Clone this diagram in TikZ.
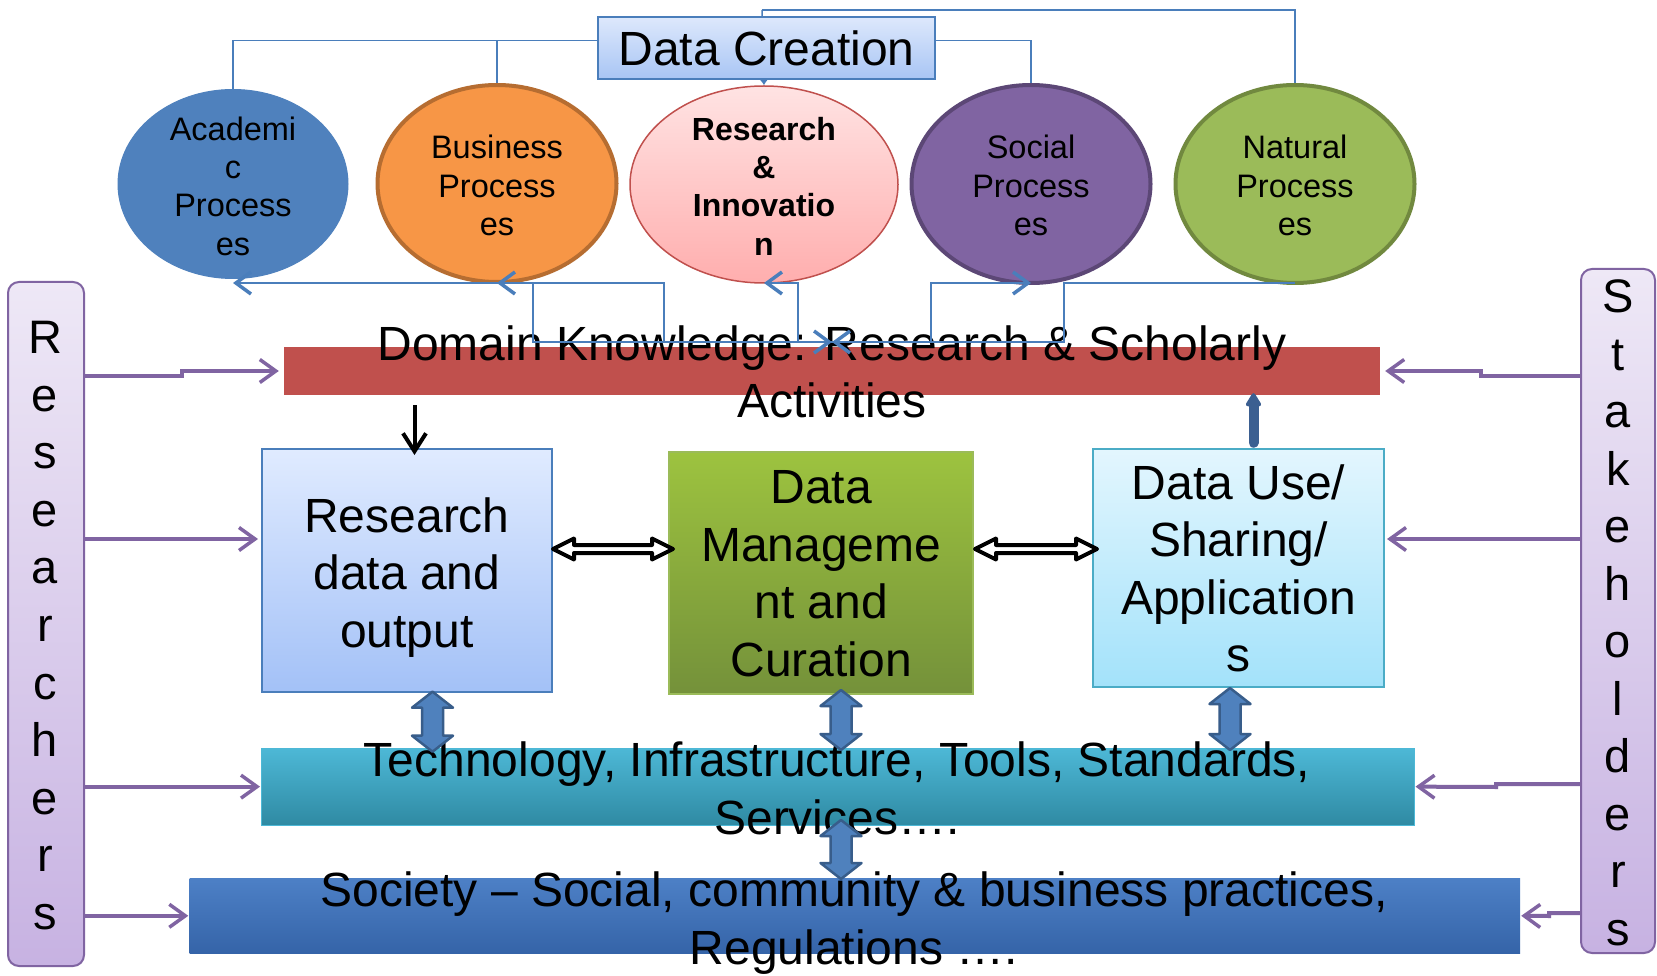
\documentclass[tikz,border=0pt]{standalone}
\usepackage{fontspec}
\setmainfont{Liberation Sans}
\usetikzlibrary{arrows.meta,shapes.geometric,calc}
\definecolor{lnblue}{HTML}{4A7EBB}
\definecolor{acaFill}{HTML}{4F81BD}
\definecolor{busFill}{HTML}{F79646}
\definecolor{busLine}{HTML}{B66D31}
\definecolor{resTop}{HTML}{FFE3E3}
\definecolor{resBot}{HTML}{FFAEAE}
\definecolor{resLine}{HTML}{C0504D}
\definecolor{socFill}{HTML}{8064A2}
\definecolor{socLine}{HTML}{5C4776}
\definecolor{natFill}{HTML}{9BBB59}
\definecolor{natLine}{HTML}{71893F}
\definecolor{domFill}{HTML}{C0504D}
\definecolor{purp}{HTML}{8064A2}
\definecolor{purTop}{HTML}{EEE8F6}
\definecolor{purBot}{HTML}{C7B2E2}
\definecolor{rdTop}{HTML}{E0EBFF}
\definecolor{rdBot}{HTML}{A3C1F7}
\definecolor{dmTop}{HTML}{9DC33F}
\definecolor{dmBot}{HTML}{74913A}
\definecolor{dmLine}{HTML}{9BBB59}
\definecolor{duTop}{HTML}{E3F6FE}
\definecolor{duBot}{HTML}{A3E2FA}
\definecolor{duLine}{HTML}{4BACC6}
\definecolor{tecTop}{HTML}{4DB8D6}
\definecolor{tecBot}{HTML}{2F8AA3}
\definecolor{sctTop}{HTML}{4D80C6}
\definecolor{sctBot}{HTML}{3564A8}
\definecolor{dcTop}{HTML}{DDE8FC}
\definecolor{dcBot}{HTML}{A8C5F4}
\definecolor{arrBlue}{HTML}{4F81BD}
\definecolor{arrBlueLine}{HTML}{385D8A}
\definecolor{upBlue}{HTML}{3B5F91}
\tikzset{
  cn/.style={draw=lnblue, line width=1.5pt},
  barbB/.tip={Straight Barb[length=15pt,width=22pt,line width=3.5pt]},
  ell/.style={ellipse, inner sep=0pt},
  rect/.style={rectangle, inner sep=0pt},
  elltxt/.style={align=center, inner sep=0pt, font=\fontsize{32.5}{38.3}\selectfont},
  bigtxt/.style={align=center, inner sep=0pt, font=\fontsize{48}{57.5}\selectfont},
  vtxt/.style={align=center, inner sep=0pt, font=\fontsize{47}{57.55}\selectfont},
  parr/.style={draw=purp, line width=4pt, -{Straight Barb[length=16pt,width=23pt,line width=3.5pt]}},
  blkarr/.style={draw=black, line width=4pt, -{Straight Barb[length=18pt,width=23pt,line width=4pt]}},
  upar/.style={draw=upBlue, line width=10pt, line cap=round, -{Triangle[length=15pt,width=17pt,round]}},
  hollowarr/.style={draw=black, fill=white, line width=4pt, line join=round},
  blockarr/.style={draw=arrBlueLine, fill=arrBlue, line width=2.5pt, line join=round},
}
\newcommand\blockdarrow[3]{%
  \draw[blockarr] (#1,#2) -- (#1+20.5,#2+16) -- (#1+10.5,#2+16) -- (#1+10.5,#3-16) -- (#1+20.5,#3-16) -- (#1,#3) -- (#1-20.5,#3-16) -- (#1-10.5,#3-16) -- (#1-10.5,#2+16) -- (#1-20.5,#2+16) -- cycle;}
\newcommand\hollowdarrow[3]{%
  \draw[hollowarr] (#1,#3) -- (#1+21,#3-10.5) -- (#1+21,#3-4) -- (#2-21,#3-4) -- (#2-21,#3-10.5) -- (#2,#3) -- (#2-21,#3+10.5) -- (#2-21,#3+4) -- (#1+21,#3+4) -- (#1+21,#3+10.5) -- cycle;}
\begin{document}
\begin{tikzpicture}[x=1pt,y=-1pt]
\useasboundingbox (0,0) rectangle (1657,976);
\fill[white] (0,0) rectangle (1657,976);

% ---- process ellipses
\node[ell, fill=acaFill, draw=acaFill, line width=1pt, minimum width=230pt, minimum height=189pt] (aca) at (233,184) {};
\node[ell, fill=busFill, draw=busLine, line width=4pt, minimum width=239pt, minimum height=197pt] (bus) at (497,183.5) {};
\node[ell, top color=resTop, bottom color=resBot, draw=resLine, line width=1.5pt, minimum width=268pt, minimum height=197pt] (res) at (764,184.5) {};
\node[ell, fill=socFill, draw=socLine, line width=4pt, minimum width=239pt, minimum height=198pt] (soc) at (1031,184) {};
\node[ell, fill=natFill, draw=natLine, line width=4pt, minimum width=239pt, minimum height=198pt] (nat) at (1295,184) {};
\node[elltxt] (acaT) at (233,186.2) {Academi\\c\\Process\\es};
\node[elltxt] (busT) at (497,185.4) {Business\\Process\\es};
\node[elltxt, font=\fontsize{32}{38.3}\selectfont\bfseries] (resT) at (764,186.2) {Research\\\&\\Innovatio\\n};
\node[elltxt] (socT) at (1031,185.4) {Social\\Process\\es};
\node[elltxt] (natT) at (1295,185.4) {Natural\\Process\\es};

% ---- Data Creation connectors
\coordinate (dcL) at (598,40.7);
\coordinate (dcR) at (935,40.7);
\coordinate (dcT) at (762,10);
\draw[cn] (dcL) -| (aca.north);
\draw[cn] (bus.north) -- (bus.north |- dcL);
\draw[cn] (dcR) -| (soc.north);
\draw[cn] (dcT) -| (nat.north);
\draw[cn, -{Latex[length=6pt,width=9pt]}] (dcT) -- (res.north);
\node[rect, draw=lnblue, line width=2pt, top color=dcTop, bottom color=dcBot, minimum width=337pt, minimum height=62pt, font=\fontsize{48}{57.5}\selectfont] (dc) at (766.5,48.2) {Data Creation};

% ---- Domain knowledge bar
\node[rect, fill=domFill, minimum width=1096pt, minimum height=48pt] (dom) at (832,371) {};
\node[bigtxt] (domT) at (832,372) {Domain Knowledge: Research \& Scholarly\\Activities};

% ---- feedback connectors under the ellipses
\coordinate (row) at (0,283);
\coordinate (hub) at (832,342);
\draw[cn, barbB-barbB] (aca.south |- row) -- (533,283) -- (533,342) -- (hub);
\draw[cn, barbB-] (bus.south |- row) -| (664,342) -- (hub);
\draw[cn, barbB-] (res.south |- row) -| (798,342) -- (hub);
\draw[cn, barbB-] (soc.south |- row) -| (931,342) -- (hub);
\draw[cn, -barbB] (nat.south |- row) -| (1064,342) -- (hub);

% ---- middle boxes
\node[rect, draw=lnblue, line width=2pt, top color=rdTop, bottom color=rdBot, minimum width=290pt, minimum height=243pt] (rd) at (407,570.5) {};
\node[bigtxt] (rdT) at (407,577.3) {Research\\data and\\output};
\node[rect, draw=dmLine, line width=2pt, top color=dmTop, bottom color=dmBot, minimum width=303.6pt, minimum height=242.3pt] (dm) at (821.2,572.9) {};
\node[bigtxt] (dmT) at (821.2,573.6) {Data\\Manageme\\nt and\\Curation};
\node[rect, draw=duLine, line width=2pt, top color=duTop, bottom color=duBot, minimum width=291pt, minimum height=238.3pt] (du) at (1238.5,567.9) {};
\node[bigtxt] (duT) at (1238.5,568.5) {Data Use/\\Sharing/\\Application\\s};

% ---- lower bars
\node[rect, top color=tecTop, bottom color=tecBot, draw=tecTop, line width=1pt, minimum width=1152.5pt, minimum height=76.7pt] (tec) at (837.75,786.65) {};
\node[bigtxt] (tecT) at (837,788.4) {Technology, Infrastructure, Tools, Standards,\\Services….};
\node[rect, top color=sctTop, bottom color=sctBot, minimum width=1330.5pt, minimum height=75pt] (sct) at (854.75,915.8) {};
\node[bigtxt] (sctT) at (854,923) {Society – Social, community \& business practices,\\Regulations ….};

% ---- side boxes
\node[rect, rounded corners=11pt, draw=purp, line width=2pt, top color=purTop, bottom color=purBot, minimum width=76pt, minimum height=684pt] (rsr) at (46,624) {};
\node[vtxt] (rsrT) at (45,625.6) {R\\e\\s\\e\\a\\r\\c\\h\\e\\r\\s};
\node[rect, rounded corners=11pt, draw=purp, line width=2pt, top color=purTop, bottom color=purBot, minimum width=74pt, minimum height=684pt] (stk) at (1618,611) {};
\node[vtxt] (stkT) at (1618,612.8) {S\\t\\a\\k\\e\\h\\o\\l\\d\\e\\r\\s};

% ---- arrows between boxes
\draw[blkarr, shorten <=10pt, shorten >=-7pt] (dom.south -| 414.5,0) -- (rd.north -| 414.5,0);
\draw[upar, shorten <=5pt, shorten >=-2pt] (du.north -| 1253.5,0) -- (dom.south -| 1253.5,0);
\hollowdarrow{553}{673}{549}
\hollowdarrow{975}{1097}{549}
\blockdarrow{432.5}{691.7}{751.7}
\blockdarrow{841}{690}{750}
\blockdarrow{1230}{688}{750}
\blockdarrow{841}{820}{879}

% ---- researchers arrows
\draw[parr, shorten >=5pt] (rsr.east |- 0,376) -- (182,376) -- (182,371) -- (dom.west);
\draw[parr, shorten >=3pt] (rsr.east |- 0,539) -- (rd.west |- 0,539);
\draw[parr, shorten >=1pt] (rsr.east |- tec.west) -- (tec.west);
\draw[parr, shorten >=1pt] (rsr.east |- sct.west) -- (sct.west);
% ---- stakeholders arrows
\draw[parr, shorten >=5pt] (stk.west |- 0,376) -- (1481,376) -- (1481,371) -- (dom.east);
\draw[parr, shorten >=2pt] (stk.west |- 0,539) -- (du.east |- 0,539);
\draw[parr, shorten >=1pt] (stk.west |- 0,784) -- (1496,784) -- (1496,787) -- (tec.east);
\draw[parr, shorten >=1pt] (stk.west |- 0,913) -- (1549,913) -- (1549,916) -- (sct.east);
\end{tikzpicture}
\end{document}
